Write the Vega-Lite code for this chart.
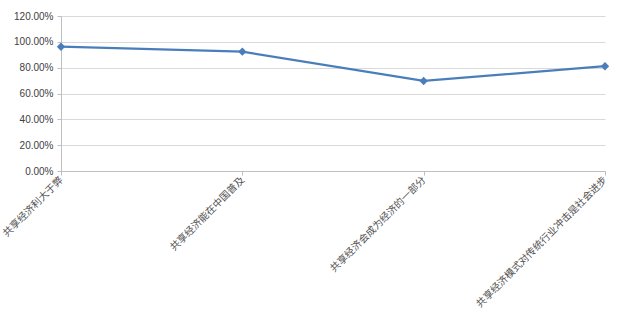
{
  "$schema": "https://vega.github.io/schema/vega-lite/v6.json",
  "autosize": {"type": "none"},
  "width": 544,
  "height": 155,
  "padding": {"left": 61, "top": 16, "right": 25, "bottom": 141},
  "background": "white",
  "data": {"values": [
    {"item": "共享经济利大于弊", "pct": 0.962},
    {"item": "共享经济能在中国普及", "pct": 0.924},
    {"item": "共享经济会成为经济的一部分", "pct": 0.697},
    {"item": "共享经济模式对传统行业冲击是社会进步", "pct": 0.811}
  ]},
  "config": {
    "view": {"stroke": null},
    "axis": {"labelColor": "#404040", "domainColor": "#bfbfbf", "tickColor": "#bfbfbf", "gridColor": "#d9d9d9"}
  },
  "mark": {"type": "line", "color": "#4a7ebb", "strokeWidth": 2.25, "point": {"shape": "diamond", "size": 70, "filled": true, "color": "#4a7ebb"}},
  "encoding": {
    "x": {"field": "item", "type": "nominal", "sort": null, "scale": {"type": "point", "padding": 0},
      "axis": {"title": null, "labelAngle": -45, "labelAlign": "right", "labelBaseline": "middle", "labelFont": "Noto Sans CJK SC", "labelFontSize": 10, "labelColor": "#505050", "tickSize": 4, "labelPadding": 3, "labelLimit": 400, "grid": false}},
    "y": {"field": "pct", "type": "quantitative", "scale": {"domain": [0, 1.2]},
      "axis": {"title": null, "format": ".2%", "values": [0, 0.2, 0.4, 0.6, 0.8, 1.0, 1.2], "labelFont": "Liberation Sans", "labelFontSize": 10, "tickSize": 4, "labelPadding": 4, "grid": true}}
  }
}
